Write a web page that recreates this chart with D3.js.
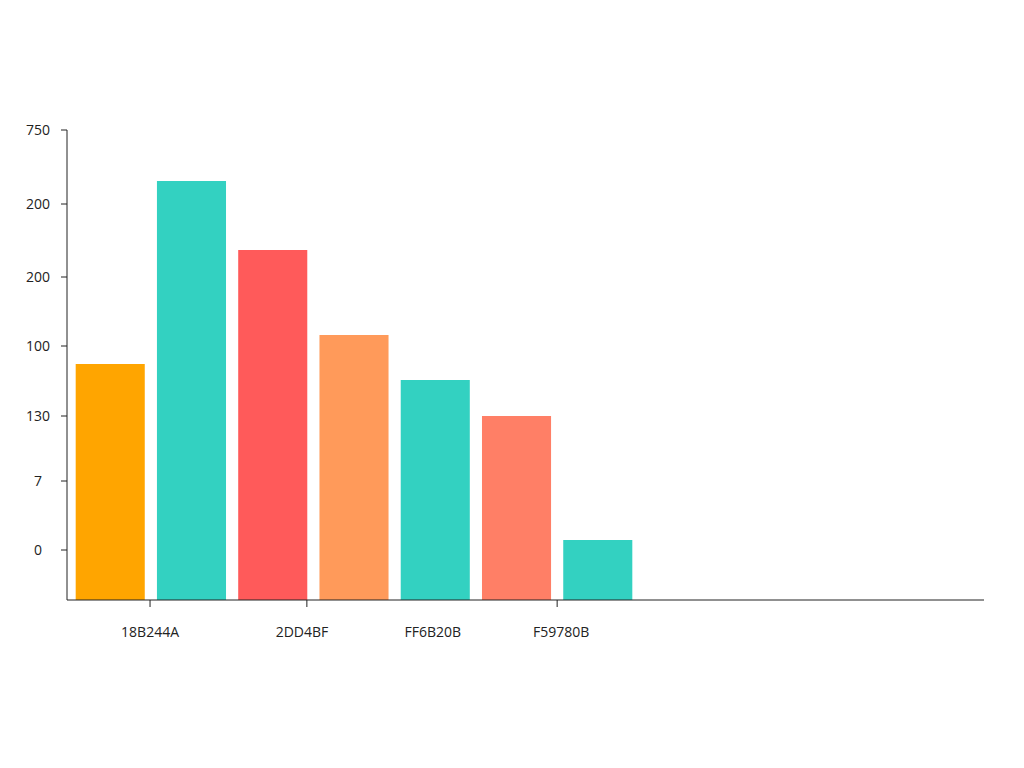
<!DOCTYPE html>
<html><head><meta charset="utf-8">
<script src="https://cdn.jsdelivr.net/npm/d3@7"></script>
<style>body{margin:0;background:#fff}text{font-family:"Open Sans",sans-serif;font-size:14px;fill:#222}</style>
</head><body><svg id="c" width="1024" height="768"></svg>
<script>
const values = [236, 419, 350, 265, 220, 184, 60];
const colors = ["#FFA500", "#33D1C1", "#FF5A5A", "#FF9A5A", "#33D1C1", "#FF7F66", "#33D1C1"];
const yTickValues = [470, 396, 323, 254, 184, 119, 50];
const yTickLabels = ["750", "200", "200", "100", "130", "7", "0"];
const xLabels = ["18B244A", "2DD4BF", "FF6B20B", "F59780B"];
const xLabelIdx = [0.49, 2.36, 3.97, 5.55];
const xTickIdx = [0.49, 2.42, 5.5];

const svg = d3.select("#c");
const y = d3.scaleLinear().domain([0, 470]).range([600, 130]);
const x = d3.scaleBand().domain(d3.range(values.length)).range([70, 638]).paddingInner(0.15).paddingOuter(0.07);
const xi = d3.scaleLinear().domain([0, 1]).range([x(0) + x.bandwidth()/2, x(1) + x.bandwidth()/2]);

svg.selectAll("rect").data(values).join("rect")
  .attr("x", (d,i)=>x(i)).attr("width", x.bandwidth())
  .attr("y", d=>y(d)).attr("height", d=>y(0)-y(d))
  .attr("fill", (d,i)=>colors[i]);

svg.append("line").attr("x1",67).attr("x2",67).attr("y1",y(470)).attr("y2",y(0)).attr("stroke","#222");
svg.append("line").attr("x1",67).attr("x2",984).attr("y1",y(0)).attr("y2",y(0)).attr("stroke","#222");
yTickValues.forEach((v,i)=>{
  svg.append("line").attr("x1",61).attr("x2",67).attr("y1",y(v)).attr("y2",y(v)).attr("stroke","#222");
  svg.append("text").attr("x",38).attr("y",y(v)).attr("dy","0.35em").attr("text-anchor","middle").text(yTickLabels[i]);
});
xTickIdx.forEach(t=>{
  svg.append("line").attr("x1",xi(t)).attr("x2",xi(t)).attr("y1",600).attr("y2",607).attr("stroke","#222");
});
xLabels.forEach((l,i)=>{
  svg.append("text").attr("x",xi(xLabelIdx[i])).attr("y",637).attr("text-anchor","middle").text(l);
});
</script></body></html>
